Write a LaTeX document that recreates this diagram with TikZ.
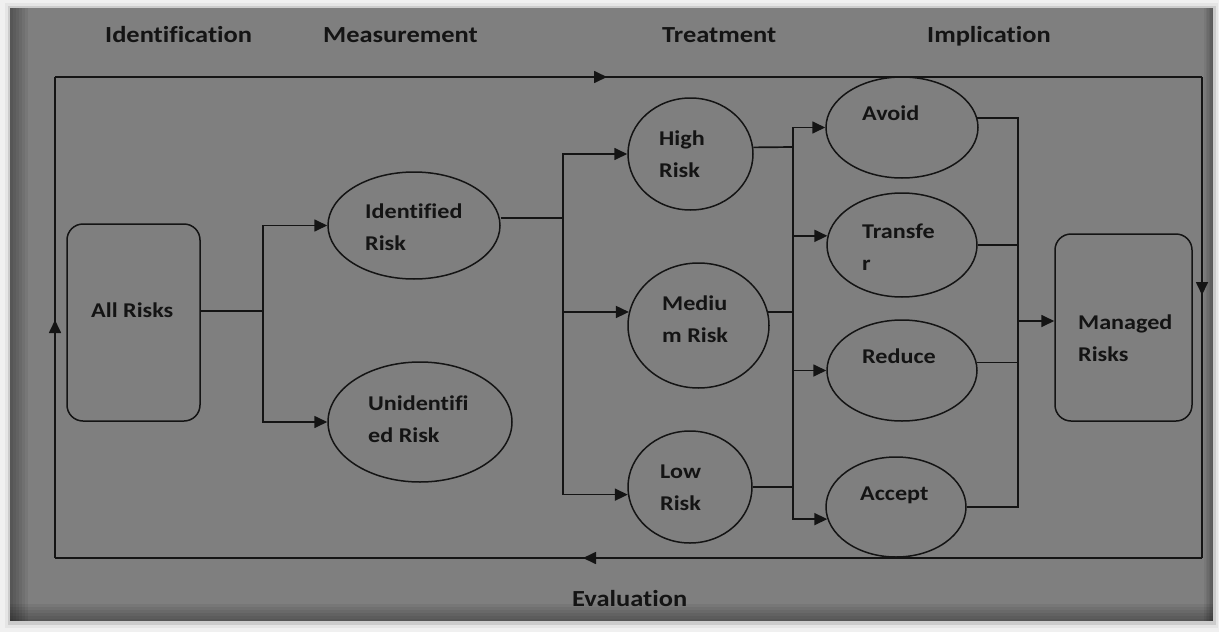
\documentclass[tikz,border=0pt]{standalone}
\usepackage{fontspec}
\setmainfont{Carlito}[FakeStretch=1.15, Ligatures={NoCommon}]
\usetikzlibrary{arrows.meta,decorations.markings,shapes.geometric,calc}
\definecolor{bg}{HTML}{7F7F7F}
\definecolor{ink}{HTML}{141414}
\definecolor{paper}{HTML}{F0F0F0}
\begin{document}
\begin{tikzpicture}[x=1pt,y=-1pt,
  line/.style={draw=ink, line width=1.7pt},
  arr/.style={line, -{Triangle[length=13pt,width=12pt]}},
  midarr/.style={postaction={decorate}, decoration={markings, mark=at position #1 with {\arrow[ink]{Triangle[length=13pt,width=12pt]}}}},
  ell/.style={ellipse, draw=ink, line width=1.5pt, inner sep=0pt},
  rbox/.style={rectangle, rounded corners=16pt, draw=ink, line width=1.5pt, inner sep=0pt},
  lbl/.style={text=ink, font=\fontsize{21}{32}\selectfont\bfseries, align=left, anchor=base west, inner sep=0pt},
  hdr/.style={text=ink, font=\fontsize{23}{28}\selectfont\bfseries, anchor=base west, inner sep=0pt}]
\useasboundingbox (0,0) rectangle (1219,632);
% background and frame shadow
\fill[paper] (0,0) rectangle (1219,632);
\fill[black!10] (5,3) rectangle (1218,628);
\fill[black!20] (8,6) rectangle (1216,625);
\fill[bg] (10,8) rectangle (1213,621);
\foreach \i in {0,...,5} {
  \fill[black, opacity=0.06] (10,8) rectangle ({28-3*\i},621);
  \fill[black, opacity=0.06] (10,{604+3*\i}) rectangle (1213,621);
  \fill[black, opacity=0.05] ({1204+1.5*\i},8) rectangle (1213,621);
}

% headers
\node[hdr] (hid) at (105,42) {Identification};
\node[hdr] (hme) at (323,42) {Measurement};
\node[hdr] (htr) at (662,42) {Treatment};
\node[hdr] (him) at (927,42) {Implication};
\node[hdr] (hev) at (572,606) {Evaluation};

% outer loop
\coordinate (c1) at (55,558);
\coordinate (c2) at (55,77);
\coordinate (c3) at (1202,77);
\coordinate (c4) at (1202,558);
\draw[line, midarr=238pt] (c1) -- (c2);
\draw[line, midarr=552pt] (c2) -- (c3);
\draw[line, midarr=218pt] (c3) -- (c4);
\draw[line, midarr=619pt] (c4) -- (c1);

% shapes
\node[rbox, minimum width=133pt, minimum height=197pt] (ar) at (133.5,322.5) {};
\node[ell, minimum width=172pt, minimum height=107pt] (idr) at (414,225.5) {};
\node[ell, minimum width=184pt, minimum height=120pt] (uidr) at (420,422) {};
\node[ell, minimum width=125pt, minimum height=112pt] (hr) at (690.5,154) {};
\node[ell, minimum width=141pt, minimum height=125pt] (mr) at (698.5,325.5) {};
\node[ell, minimum width=124pt, minimum height=112pt] (lr) at (690,487) {};
\node[ell, minimum width=152pt, minimum height=101pt] (av) at (902,127.5) {};
\node[ell, minimum width=150pt, minimum height=104pt] (tr) at (902,245) {};
\node[ell, minimum width=150pt, minimum height=101pt] (rd) at (902,370.5) {};
\node[ell, minimum width=140pt, minimum height=100pt] (ac) at (896,507) {};
\node[rbox, minimum width=137pt, minimum height=187pt] (mg) at (1123.5,327.5) {};

% labels (base = baseline of last line)
\node[lbl] (tar) at (91,317) {All Risks};
\node[lbl] (tidr) at (365,250) {Identified\\Risk};
\node[lbl] (tuidr) at (368,442) {Unidentifi\\ed Risk};
\node[lbl] (thr) at (659,177) {High\\Risk};
\node[lbl] (tmr) at (662,342) {Mediu\\m Risk};
\node[lbl] (tlr) at (660,510) {Low\\Risk};
\node[lbl] (tav) at (862,120) {Avoid};
\node[lbl] (ttr) at (862,270) {Transfe\\r};
\node[lbl] (trd) at (862,363) {Reduce};
\node[lbl] (tac) at (860,500) {Accept};
\node[lbl] (tmg) at (1078,361) {Managed\\Risks};

% junctions
\coordinate (s1) at (263,311);
\coordinate (s2) at (563,218);
\coordinate (s3) at (793,147);
\coordinate (s4) at (1018,321);

% All Risks -> identified / unidentified
\draw[line] (ar.east |- s1) -- (s1);
\draw[arr] (s1) |- (idr.west);
\draw[arr] (s1) |- (uidr.west);

% Identified -> high / medium / low
\draw[line] (idr.east |- s2) -- (s2);
\draw[arr] (s2) |- (hr.west);
\draw[arr] (s2 |- mr.169) -- (mr.169);
\draw[arr] (s2) |- (lr.187);

% risk levels -> treatments
\draw[line] (hr.6) -- (s3);
\draw[line] (mr.11) -- (s3 |- mr.11);
\draw[line] (lr.east) -- (s3 |- lr.east);
\draw[line] (s3) -- (s3 |- lr.east);
\draw[arr] (s3) |- (av.west);
\draw[arr] (s3 |- tr.173) -- (tr.173);
\draw[arr] (s3 |- rd.west) -- (rd.west);
\draw[arr] (s3) |- (ac.190);

% treatments -> managed risks
\draw[line] (av.7) -| (s4);
\draw[line] (tr.east) -- (s4 |- tr.east);
\draw[line] (rd.6) -- (s4 |- rd.6);
\draw[line] (ac.east) -| (s4);
\draw[arr] (s4) -- (mg.west |- s4);
\end{tikzpicture}
\end{document}
